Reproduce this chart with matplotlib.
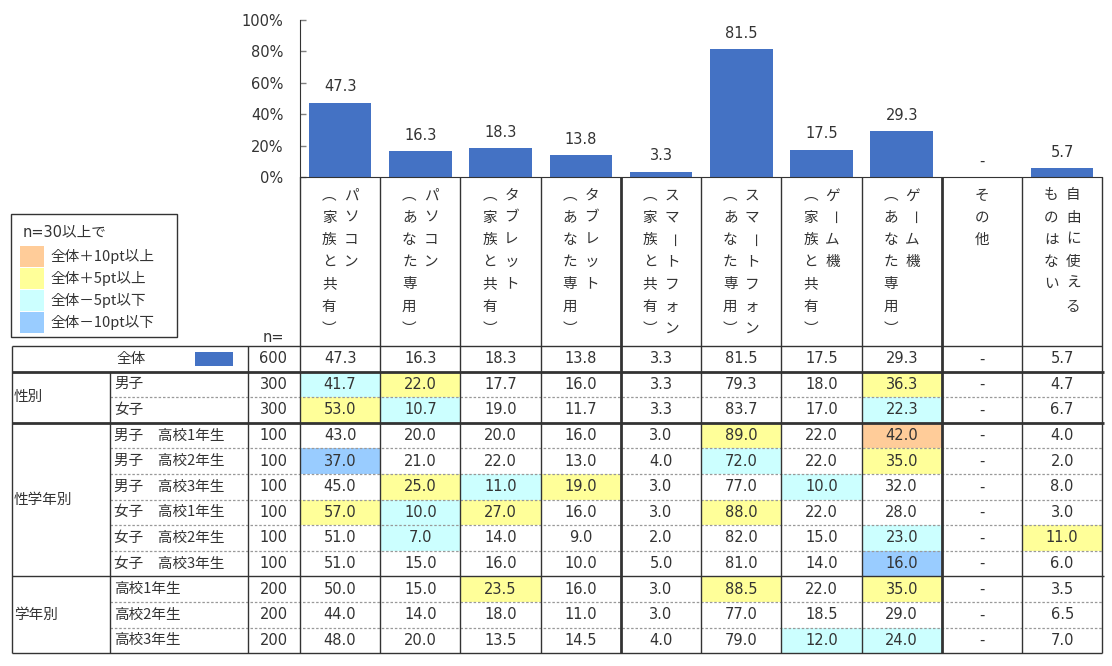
import matplotlib
matplotlib.use("Agg")
import matplotlib.pyplot as plt
from matplotlib.patches import Rectangle

plt.rcParams['font.family'] = ['Noto Sans CJK JP', 'DejaVu Sans']
NUMFAM = ['DejaVu Sans', 'Noto Sans CJK JP']

# ---------------- data ----------------
cat_main = ["パソコン", "パソコン", "タブレット", "タブレット", "スマートフォン",
            "スマートフォン", "ゲーム機", "ゲーム機", "その他", "自由に使える"]
cat_sub = ["（家族と共有）", "（あなた専用）", "（家族と共有）", "（あなた専用）", "（家族と共有）",
           "（あなた専用）", "（家族と共有）", "（あなた専用）", "", "ものはない"]

overall = [47.3, 16.3, 18.3, 13.8, 3.3, 81.5, 17.5, 29.3, None, 5.7]

group_labels = ["性別", "性学年別", "学年別"]
group_sizes = [2, 6, 3]

row_labels = ["男子", "女子",
              "男子　高校1年生", "男子　高校2年生", "男子　高校3年生",
              "女子　高校1年生", "女子　高校2年生", "女子　高校3年生",
              "高校1年生", "高校2年生", "高校3年生"]
n_overall = 600
n_values = [300, 300, 100, 100, 100, 100, 100, 100, 200, 200, 200]

male = [41.7, 22.0, 17.7, 16.0, 3.3, 79.3, 18.0, 36.3, None, 4.7]
female = [53.0, 10.7, 19.0, 11.7, 3.3, 83.7, 17.0, 22.3, None, 6.7]
male_g1 = [43.0, 20.0, 20.0, 16.0, 3.0, 89.0, 22.0, 42.0, None, 4.0]
male_g2 = [37.0, 21.0, 22.0, 13.0, 4.0, 72.0, 22.0, 35.0, None, 2.0]
male_g3 = [45.0, 25.0, 11.0, 19.0, 3.0, 77.0, 10.0, 32.0, None, 8.0]
female_g1 = [57.0, 10.0, 27.0, 16.0, 3.0, 88.0, 22.0, 28.0, None, 3.0]
female_g2 = [51.0, 7.0, 14.0, 9.0, 2.0, 82.0, 15.0, 23.0, None, 11.0]
female_g3 = [51.0, 15.0, 16.0, 10.0, 5.0, 81.0, 14.0, 16.0, None, 6.0]
grade1 = [50.0, 15.0, 23.5, 16.0, 3.0, 88.5, 22.0, 35.0, None, 3.5]
grade2 = [44.0, 14.0, 18.0, 11.0, 3.0, 77.0, 18.5, 29.0, None, 6.5]
grade3 = [48.0, 20.0, 13.5, 14.5, 4.0, 79.0, 12.0, 24.0, None, 7.0]
table_rows = [male, female, male_g1, male_g2, male_g3,
              female_g1, female_g2, female_g3, grade1, grade2, grade3]

yticks = [0, 20, 40, 60, 80, 100]
legend_title = "n=30以上で"
legend_labels = ["全体＋10pt以上", "全体＋5pt以上", "全体－5pt以下", "全体－10pt以下"]

# ---------------- styles ----------------
BAR = "#4472C4"
TXT = "#333333"
LINE = "#333333"
C_P10, C_P5, C_M5, C_M10 = "#FFCC99", "#FFFF99", "#CCFFFF", "#99CCFF"
legend_colors = [C_P10, C_P5, C_M5, C_M10]
FS = 10.5
NFS = 10.5

W, H = 1112, 666
fig = plt.figure(figsize=(W / 100, H / 100), dpi=100)

# layout (pixels)
X0, X1 = 300.0, 1102.3
Y_ZERO, Y_TOP = 177.0, 20.0
ncol = len(overall)
col_w = (X1 - X0) / ncol

# ---------------- bar chart ----------------
axb = fig.add_axes([X0 / W, (H - Y_ZERO) / H, (X1 - X0) / W, (Y_ZERO - Y_TOP) / H])
xs = [i + 0.5 for i in range(ncol)]
hs = [v if v is not None else 0 for v in overall]
axb.bar(xs, hs, width=0.78, color=BAR, zorder=2)
for x, v in zip(xs, overall):
    lab = f"{v:.1f}" if v is not None else "-"
    axb.annotate(lab, (x, v if v is not None else 0), xytext=(0, 11.5),
                 textcoords="offset points", ha="center", va="center",
                 fontsize=NFS, color=TXT, family=NUMFAM)
axb.set_xlim(0, ncol)
axb.set_ylim(0, 100)
axb.set_yticks(yticks)
axb.set_yticklabels([f"{t}%" for t in yticks], fontsize=NFS, color=TXT, family=NUMFAM)
axb.set_xticks([])
axb.tick_params(axis="y", direction="in", length=4.5, width=1, color="#808080", pad=12)
for s in ["top", "right"]:
    axb.spines[s].set_visible(False)
axb.spines["left"].set_color(LINE)
axb.spines["bottom"].set_color(LINE)
axb.patch.set_alpha(0)

# ---------------- overlay (table) ----------------
ax = fig.add_axes([0, 0, 1, 1])
ax.set_xlim(0, W)
ax.set_ylim(H, 0)
ax.axis("off")
ax.patch.set_alpha(0)

TOP = 346.0
RH = 25.6
nrows = 1 + len(row_labels)
row_top = [TOP + RH * k for k in range(nrows + 1)]
XL, XG, XLAB, XN = 11.7, 110.3, 248.3, 299.3
col_x = [X0 + col_w * i for i in range(ncol + 1)]


def cell_color(v, base):
    if v is None or base is None:
        return None
    d = v - base
    if d >= 10:
        return C_P10
    if d >= 5:
        return C_P5
    if d <= -10:
        return C_M10
    if d <= -5:
        return C_M5
    return None


# cell fills
for r, vals in enumerate(table_rows):
    y0 = row_top[r + 1]
    for c, v in enumerate(vals):
        col = cell_color(v, overall[c])
        if col:
            ax.add_patch(Rectangle((col_x[c], y0), col_w, RH, facecolor=col,
                                   edgecolor="none", zorder=1))

# vertical header labels
STEP = 22.2
Y_CH0 = 195.5
VMAP = {"（": "︵", "）": "︶"}


def draw_vertical(s, x):
    for k, ch in enumerate(s):
        rot = 0
        if ch == "ー":
            rot = -90
        ch = VMAP.get(ch, ch)
        ax.text(x, Y_CH0 + STEP * k, ch, ha="center", va="center", fontsize=FS,
                color=TXT, rotation=rot, rotation_mode="anchor", zorder=3)


for i in range(ncol):
    cx = col_x[i] + col_w / 2
    if cat_sub[i]:
        draw_vertical(cat_main[i], cx + 11)
        draw_vertical(cat_sub[i], cx - 11)
    else:
        draw_vertical(cat_main[i], cx)

# overall row
yc = row_top[0] + RH / 2
ax.text(131, yc, "全体", ha="center", va="center", fontsize=FS, color=TXT)
ax.add_patch(Rectangle((195, yc - 6.7), 38, 13.4, facecolor=BAR, edgecolor="none"))
ax.text(273.5, yc, str(n_overall), ha="center", va="center", fontsize=NFS, color=TXT,
        family=NUMFAM)
for c, v in enumerate(overall):
    ax.text(col_x[c] + col_w / 2, yc, f"{v:.1f}" if v is not None else "-",
            ha="center", va="center", fontsize=NFS, color=TXT, zorder=3, family=NUMFAM)
ax.text(273.5, 337, "n=", ha="center", va="center", fontsize=NFS, color=TXT,
        family=NUMFAM)

# body rows
for r, (lab, n, vals) in enumerate(zip(row_labels, n_values, table_rows)):
    yc = row_top[r + 1] + RH / 2
    ax.text(114, yc, lab, ha="left", va="center", fontsize=FS, color=TXT)
    ax.text(273.5, yc, str(n), ha="center", va="center", fontsize=NFS, color=TXT,
            family=NUMFAM)
    for c, v in enumerate(vals):
        ax.text(col_x[c] + col_w / 2, yc, f"{v:.1f}" if v is not None else "-",
                ha="center", va="center", fontsize=NFS, color=TXT, zorder=3,
                family=NUMFAM)

# group labels
start = 1
group_bounds = []
for g, size in zip(group_labels, group_sizes):
    ya, yb = row_top[start], row_top[start + size]
    ax.text(14, (ya + yb) / 2, g, ha="left", va="center", fontsize=FS, color=TXT)
    group_bounds.append((start, start + size))
    start += size


# table lines
def hline(y, xa, xb, lw=1.0):
    ax.plot([xa, xb], [y, y], color=LINE, lw=lw, zorder=4, solid_capstyle="butt")


def vline(x, ya, yb, lw=1.0):
    ax.plot([x, x], [ya, yb], color=LINE, lw=lw, zorder=4, solid_capstyle="butt")


bottom = row_top[-1]
hline(row_top[0], XL, X1)
for gi, (a, b) in enumerate(group_bounds):
    lw = 2.0 if gi < 2 else 1.0
    hline(row_top[a], XL, X1 + 1.5, lw=lw)
    for k in range(a + 1, b):
        ax.plot([XG, X1], [row_top[k], row_top[k]], color="#999999", lw=0.9,
                ls=(0, (2, 1.5)), zorder=4)
hline(bottom, XL, X1)

vline(XL, row_top[0], bottom)
vline(XG, row_top[1], bottom)
vline(XLAB, row_top[0], bottom)
for i, x in enumerate(col_x):
    lw = 2.0 if i in (4, 8) else 1.0
    vline(x, Y_ZERO, bottom, lw=lw)

# legend box
ax.add_patch(Rectangle((10.7, 214.3), 166.6, 122.7, facecolor="white",
                       edgecolor=LINE, lw=1.0, zorder=5))
ax.text(23, 232, legend_title, ha="left", va="center", fontsize=FS, color=TXT, zorder=6,
        family=NUMFAM)
sw_y = [246.0, 268.0, 290.0, 312.0]
for yy, col, lab in zip(sw_y, legend_colors, legend_labels):
    ax.add_patch(Rectangle((20, yy), 24, 20.5, facecolor=col, edgecolor="none", zorder=6))
    ax.text(50.7, yy + 10.3, lab, ha="left", va="center", fontsize=FS, color=TXT, zorder=6)

fig.savefig("out.png", dpi=100)
